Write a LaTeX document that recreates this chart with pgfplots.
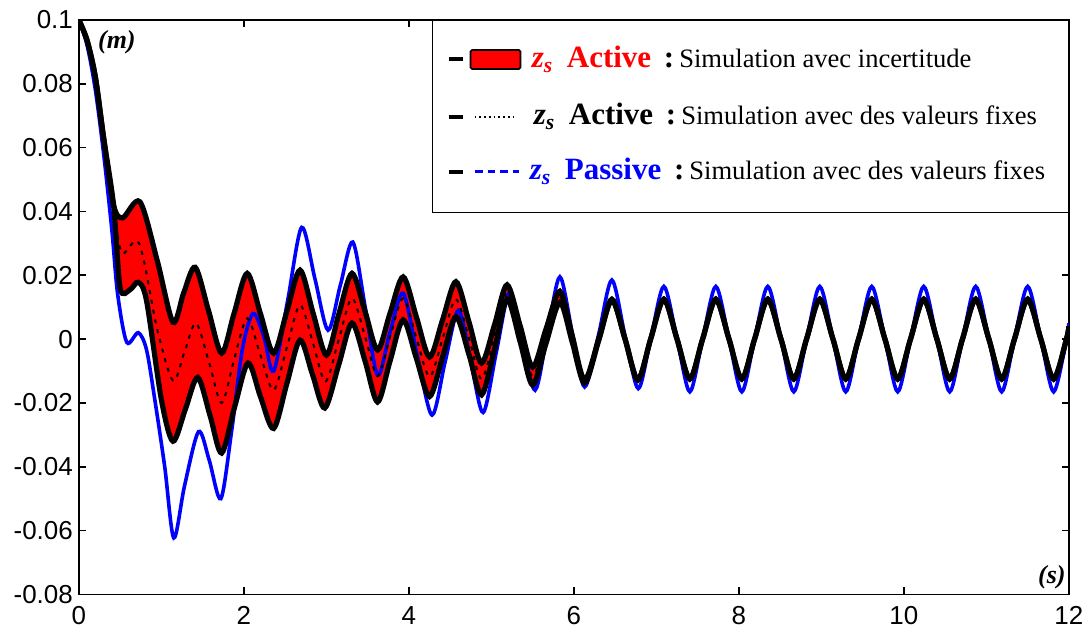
\documentclass[border=0pt]{standalone}
\usepackage{pgfplots}
\pgfplotsset{compat=1.18}
\usepgfplotslibrary{fillbetween}
\usepackage{fontspec}
\setmainfont{Liberation Serif}
\newfontfamily\tickfont{Liberation Sans}
\definecolor{pblue}{RGB}{0,0,255}
\definecolor{ared}{RGB}{255,0,0}
\newcommand\legrow[3]{{\color{#1}\fontsize{15.5}{18}\selectfont\bfseries\itshape z\textsubscript{s}\hspace{6.8pt}\upshape #2}\hspace{6.4pt}{\fontsize{15.5}{18}\selectfont\bfseries :}\ {\fontsize{13.3}{16}\selectfont #3}}

\pgfplotstableread{
t y
0 0.100
0.10 0.0935
0.20 0.082
0.30 0.063
0.42 0.042
0.53 0.038
0.74 0.043
0.95 0.0245
1.14 0.0053
1.27 0.0145
1.41 0.0225
1.57 0.009
1.73 -0.0044
1.88 0.008
2.04 0.0206
2.20 0.008
2.36 -0.0044
2.52 0.0086
2.68 0.0216
2.84 0.008
3.00 -0.0050
3.15 0.0078
3.31 0.0206
3.47 0.0085
3.62 -0.0034
3.77 0.008
3.93 0.0195
4.09 0.007
4.25 -0.0056
4.41 0.0062
4.57 0.018
4.73 0.0052
4.88 -0.0075
5.04 0.0047
5.19 0.017
5.35 0.004
5.50 -0.0088
5.66 0.003
5.83 0.0150
5.98 0.001
6.13 -0.0128
6.30 0.0
6.46 0.0125
6.62 0.0
6.775 -0.0128
6.93 0.0
7.09 0.0125
7.25 0
7.405 -0.0125
7.56 0
7.72 0.0125
7.88 0
8.035 -0.0125
8.19 0
8.35 0.0125
8.51 0
8.665 -0.0125
8.82 0
8.98 0.0125
9.14 0
9.295 -0.0125
9.45 0
9.61 0.0125
9.77 0
9.925 -0.0125
10.08 0
10.24 0.0125
10.40 0
10.555 -0.0125
10.71 0
10.87 0.0125
11.03 0
11.185 -0.0125
11.34 0
11.50 0.0125
11.66 0
11.815 -0.0125
11.97 0
12 0.004
}\tabU

\pgfplotstableread{
t y
0 0.100
0.10 0.0935
0.20 0.082
0.30 0.063
0.42 0.042
0.50 0.016
0.62 0.0155
0.72 0.0178
0.82 0.012
1.00 -0.019
1.14 -0.032
1.29 -0.022
1.44 -0.012
1.59 -0.024
1.73 -0.0357
1.89 -0.021
2.05 -0.0075
2.20 -0.018
2.36 -0.028
2.52 -0.014
2.68 -0.0003
2.83 -0.011
2.98 -0.0216
3.15 -0.008
3.31 0.005
3.47 -0.007
3.62 -0.0197
3.77 -0.007
3.93 0.006
4.09 -0.006
4.25 -0.018
4.41 -0.0055
4.57 0.007
4.73 -0.005
4.88 -0.0175
5.04 -0.003
5.19 0.0125
5.35 -0.001
5.50 -0.0144
5.66 -0.0015
5.83 0.0115
5.98 -0.001
6.13 -0.0138
6.30 -0.0005
6.46 0.0122
6.62 0.0
6.775 -0.0128
6.93 0.0
7.09 0.0125
7.25 0
7.405 -0.0125
7.56 0
7.72 0.0125
7.88 0
8.035 -0.0125
8.19 0
8.35 0.0125
8.51 0
8.665 -0.0125
8.82 0
8.98 0.0125
9.14 0
9.295 -0.0125
9.45 0
9.61 0.0125
9.77 0
9.925 -0.0125
10.08 0
10.24 0.0125
10.40 0
10.555 -0.0125
10.71 0
10.87 0.0125
11.03 0
11.185 -0.0125
11.34 0
11.50 0.0125
11.66 0
11.815 -0.0125
11.97 0
12 0.004
}\tabL

\pgfplotstableread{
t y
0 0.100
0.10 0.0935
0.20 0.082
0.30 0.063
0.42 0.042
0.52 0.027
0.73 0.030
0.95 0.003
1.14 -0.013
1.28 -0.004
1.42 0.005
1.58 -0.0075
1.73 -0.020
1.88 -0.0065
2.04 0.0065
2.20 -0.005
2.36 -0.016
2.52 -0.0027
2.68 0.0107
2.84 -0.0015
2.99 -0.0133
3.15 -0.0001
3.31 0.0128
3.47 0.0007
3.62 -0.0116
3.77 0.0005
3.93 0.0128
4.09 0.0005
4.25 -0.0118
4.41 0.0003
4.57 0.0125
4.73 0.0001
4.88 -0.0125
5.04 0.0009
5.19 0.0148
5.35 0.0015
5.50 -0.0116
5.66 0.0007
5.83 0.0133
5.98 0
6.13 -0.0133
6.30 0
6.46 0.0124
6.62 0.0
6.775 -0.0128
6.93 0.0
7.09 0.0125
7.25 0
7.405 -0.0125
7.56 0
7.72 0.0125
7.88 0
8.035 -0.0125
8.19 0
8.35 0.0125
8.51 0
8.665 -0.0125
8.82 0
8.98 0.0125
9.14 0
9.295 -0.0125
9.45 0
9.61 0.0125
9.77 0
9.925 -0.0125
10.08 0
10.24 0.0125
10.40 0
10.555 -0.0125
10.71 0
10.87 0.0125
11.03 0
11.185 -0.0125
11.34 0
11.50 0.0125
11.66 0
11.815 -0.0125
11.97 0
12 0.004
}\tabM

\pgfplotstableread{
t y
0 0.100
0.10 0.092
0.20 0.078
0.30 0.058
0.40 0.034
0.47 0.014
0.58 -0.001
0.72 0.002
0.82 -0.0034
0.92 -0.019
1.04 -0.040
1.15 -0.0623
1.28 -0.046
1.45 -0.029
1.58 -0.038
1.72 -0.050
1.85 -0.029
1.98 -0.0034
2.11 0.008
2.24 0.001
2.36 -0.010
2.53 0.012
2.70 0.035
2.86 0.019
3.02 0.0028
3.17 0.017
3.32 0.0304
3.47 0.010
3.62 -0.0113
3.77 0.002
3.93 0.0144
4.10 -0.005
4.28 -0.0238
4.44 -0.007
4.60 0.009
4.75 -0.007
4.90 -0.023
5.06 -0.004
5.22 0.0147
5.37 -0.0005
5.53 -0.016
5.68 0.002
5.83 0.0195
5.98 0.002
6.13 -0.0150
6.30 0.0015
6.46 0.0185
6.62 0.001
6.78 -0.0155
6.93 0.0
7.09 0.0165
7.25 0
7.405 -0.0165
7.56 0
7.72 0.0165
7.88 0
8.035 -0.0165
8.19 0
8.35 0.0165
8.51 0
8.665 -0.0165
8.82 0
8.98 0.0165
9.14 0
9.295 -0.0165
9.45 0
9.61 0.0165
9.77 0
9.925 -0.0165
10.08 0
10.24 0.0165
10.40 0
10.555 -0.0165
10.71 0
10.87 0.0165
11.03 0
11.185 -0.0165
11.34 0
11.50 0.0165
11.66 0
11.815 -0.0165
11.97 0
12 0.005
}\tabP

\begin{document}
\begin{tikzpicture}
\begin{axis}[
  scale only axis, width=495.5pt, height=287.5pt,
  xmin=0, xmax=12, ymin=-0.08, ymax=0.1,
  xtick={0,2,4,6,8,10,12},
  xticklabels={0,2,4,6,8,10,12},
  ytick={-0.08,-0.06,-0.04,-0.02,0,0.02,0.04,0.06,0.08,0.1},
  yticklabels={-0.08,-0.06,-0.04,-0.02,0,0.02,0.04,0.06,0.08,0.1},
  tick align=inside, major tick length=3.5pt,
  xtick pos=both, ytick pos=both,
  ticklabel style={font=\tickfont\fontsize{13}{15}\selectfont},
  xticklabel style={yshift=-2.5pt},
  yticklabel style={xshift=0.5pt},
  axis line style={line width=0.8pt},
  every tick/.style={black, line width=0.8pt},
]
\addplot[name path=U, draw=none, smooth, forget plot] table[x=t,y=y] {\tabU};
\addplot[name path=L, draw=none, smooth, forget plot] table[x=t,y=y] {\tabL};
\addplot[ared] fill between[of=U and L];
\addplot[pblue, line width=1.8pt, smooth] table[x=t,y=y] {\tabP};
\addplot[black, line width=2.6pt, smooth] table[x=t,y=y] {\tabU};
\addplot[black, line width=2.6pt, smooth] table[x=t,y=y] {\tabL};
\addplot[black, line width=1pt, smooth, dash pattern=on 2pt off 3pt] table[x=t,y=y] {\tabM};
\end{axis}
\begin{scope}[shift={(current axis.south west)}]
  \draw[black, line width=0.7pt, fill=white] (177pt,191pt) rectangle (495.5pt,287.5pt);
  \draw[black, line width=2pt] (185pt,268pt) -- (192pt,268pt);
  \draw[black, line width=0.9pt, fill=ared, rounded corners=0.8pt] (196pt,263pt) rectangle (221pt,272.5pt);
  \node[anchor=base west, inner sep=0pt] at (226.5pt,263.5pt) {\legrow{ared}{Active}{Simulation avec incertitude}};
  \draw[black, line width=2pt] (185pt,239pt) -- (192pt,239pt);
  \draw[black, line width=1pt, dash pattern=on 0.8pt off 1.6pt] (198pt,239pt) -- (217.5pt,239pt);
  \node[anchor=base west, inner sep=0pt] at (227.5pt,235pt) {\legrow{black}{Active}{Simulation avec des valeurs fixes}};
  \draw[black, line width=2pt] (185pt,211.5pt) -- (192pt,211.5pt);
  \draw[pblue, line width=1.5pt, dash pattern=on 4pt off 2.5pt] (198pt,211.5pt) -- (220.5pt,211.5pt);
  \node[anchor=base west, inner sep=0pt] at (225.5pt,207.5pt) {\legrow{pblue}{Passive}{Simulation avec des valeurs fixes}};
  \node[inner sep=0pt] at (19pt,276.5pt) {\fontsize{13}{15}\selectfont\bfseries\itshape (m)};
  \node[inner sep=0pt] at (487pt,8.5pt) {\fontsize{13}{15}\selectfont\bfseries\itshape (s)};
  \path (-39.5pt,-19.5pt) rectangle (505.5pt,297.5pt);
\end{scope}
\end{tikzpicture}
\end{document}
